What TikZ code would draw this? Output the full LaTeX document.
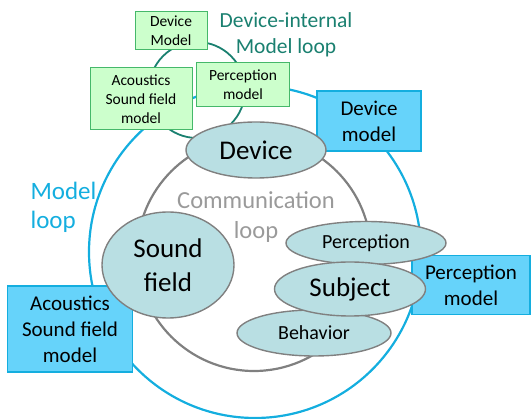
\documentclass[tikz,border=0pt]{standalone}
\usepackage{fontspec}
\setmainfont{Carlito}
\usetikzlibrary{shapes.geometric}
\definecolor{modelblue}{HTML}{14AEDF}
\definecolor{boxblue}{HTML}{66D3FA}
\definecolor{boxgreen}{HTML}{CCFFCC}
\definecolor{edgegreen}{HTML}{45B86A}
\definecolor{loopteal}{HTML}{1A8070}
\definecolor{ellfill}{HTML}{B9DFE3}
\definecolor{ellgray}{HTML}{808080}
\definecolor{commgray}{HTML}{9A9A9A}
\tikzset{
  loopring/.style={circle, draw, inner sep=0pt, line width=2.2pt},
  bluebox/.style={rectangle, draw=modelblue, fill=boxblue, line width=1.3pt, align=center,
    inner sep=0pt, font=\fontsize{21}{26}\selectfont},
  greenbox/.style={rectangle, draw=edgegreen, fill=boxgreen, line width=1pt, align=center,
    inner sep=0pt, font=\fontsize{15.5}{19}\selectfont},
  bigell/.style={ellipse, draw=ellgray, fill=ellfill, line width=1.4pt, inner sep=0pt, align=center,
    font=\fontsize{27}{34}\selectfont},
  smallell/.style={ellipse, draw=ellgray, fill=ellfill, line width=1.4pt, inner sep=0pt,
    font=\fontsize{20}{24}\selectfont},
}
\begin{document}
\begin{tikzpicture}[x=1pt,y=-1pt]
\useasboundingbox (0,0) rectangle (531,419);

% loops
\node[loopring, draw=modelblue, minimum size=332pt] (modelloop) at (255,252) {};
\node[loopring, draw=ellgray, minimum size=234pt] (commloop) at (254,254) {};
\node[loopring, draw=loopteal, line width=1.8pt, minimum size=96pt] (devloop) at (197,90) {};

% loop labels
\node[text=modelblue, align=left, font=\fontsize{25}{29}\selectfont, anchor=west] (modellbl) at (27,207) {Model\\loop};
\node[text=commgray, align=center, font=\fontsize{24.5}{30}\selectfont] (commlbl) at (256,217) {Communication\\loop};
\node[text=loopteal, align=center, font=\fontsize{21.5}{26}\selectfont] (devlbl) at (286,35) {Device-internal\\Model loop};

% device-internal models
\node[greenbox, minimum width=72pt, minimum height=38pt] (gdev) at (171,31) {Device\\Model};
\node[greenbox, minimum width=102pt, minimum height=62pt] (gac) at (141,99) {Acoustics\\Sound field\\model};
\node[greenbox, minimum width=93pt, minimum height=44pt] (gper) at (243,85) {Perception\\model};

% models
\node[bluebox, minimum width=104pt, minimum height=60pt] (bdev) at (369,121) {Device\\model};
\node[bluebox, minimum width=118pt, minimum height=59pt] (bper) at (471,285) {Perception\\model};
\node[bluebox, minimum width=125pt, minimum height=86pt] (bac) at (70,329) {Acoustics\\Sound field\\model};

% communication loop elements
\node[bigell, minimum width=140pt, minimum height=56pt] (device) at (256,150) {Device};
\node[bigell, minimum width=132pt, minimum height=106pt] (sound) at (168,265) {Sound\\field};
\node[smallell, minimum width=160pt, minimum height=43pt] (perc) at (366,243) {Perception};
\node[smallell, minimum width=154pt, minimum height=46pt] (behav) at (314,333) {Behavior};
\node[bigell, minimum width=151pt, minimum height=54pt] (subj) at (350,289) {Subject};
\end{tikzpicture}
\end{document}
